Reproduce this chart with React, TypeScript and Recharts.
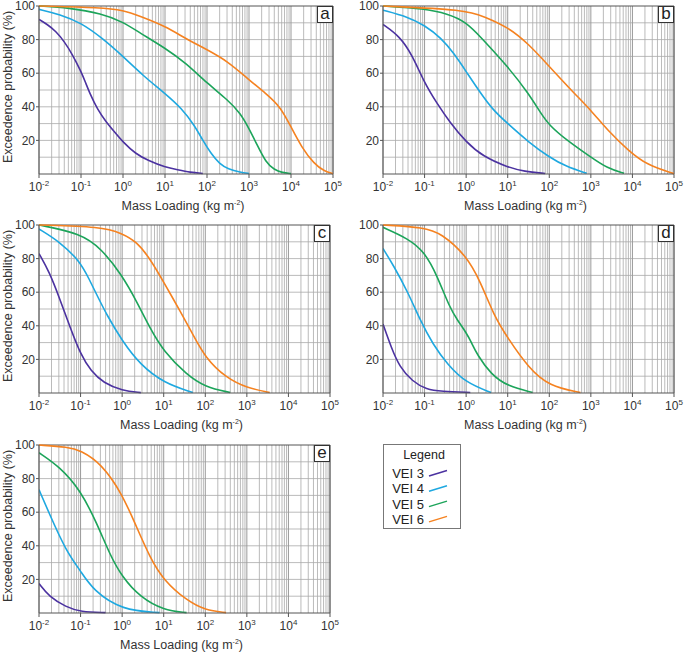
import { LineChart, Line, XAxis, YAxis, CartesianGrid, ReferenceLine } from 'recharts';

// Each curve: [log10 mass loading (kg m-2), exceedence probability %]
const A3 = [[-2, 92], [-1.8, 89], [-1.6, 85], [-1.4, 79], [-1.2, 71], [-1, 61], [-0.9, 55], [-0.8, 48.5], [-0.6, 38], [-0.4, 31], [-0.2, 25], [0, 19], [0.3, 12], [0.6, 8], [1, 4], [1.3, 2.5], [1.6, 1], [1.9, 0.3]];
const A4 = [[-2, 98], [-1.5, 95], [-1, 90], [-0.5, 81], [0, 70], [0.5, 58], [1, 48], [1.4, 39], [1.7, 29], [1.9, 20], [2.1, 12], [2.3, 6], [2.5, 3], [2.8, 1], [3, 0.3]];
const A5 = [[-2, 100], [-1.3, 99], [-0.5, 95.5], [0, 90.5], [0.4, 84], [1, 75], [1.5, 66], [2, 54], [2.5, 44], [2.8, 36], [3, 27], [3.2, 17], [3.4, 7], [3.6, 2.5], [3.8, 0.8], [4, 0.2]];
const A6 = [[-2, 100], [-0.5, 99], [0, 97.5], [0.4, 94], [1, 88], [1.5, 80.5], [2, 74], [2.5, 67], [3, 56], [3.4, 48], [3.75, 40], [4, 28], [4.25, 16], [4.55, 6], [4.8, 1.5], [5, 0.2]];

const B3 = [[-2, 89], [-1.6, 82], [-1.3, 71], [-1, 54], [-0.7, 42], [-0.4, 31], [0, 19], [0.4, 10.5], [1, 4], [1.4, 1.5], [1.9, 0.3]];
const B4 = [[-2, 97.5], [-1.4, 93.5], [-1, 88.5], [-0.6, 81], [-0.3, 72], [0, 61], [0.35, 48], [0.65, 38], [1, 30], [1.5, 19], [2, 10], [2.4, 4.5], [2.9, 0.4]];
const B5 = [[-2, 100], [-1, 98.4], [-0.45, 95.4], [0, 90.5], [0.35, 81.5], [1, 64], [1.5, 48], [1.8, 36], [2, 29], [2.4, 20.5], [3, 10], [3.4, 3.4], [3.8, 0.4]];
const B6 = [[-2, 100], [0, 97.8], [0.45, 93.5], [1, 87.5], [1.5, 77.5], [2, 64], [2.6, 48], [3, 38], [3.4, 26], [3.9, 14], [4.35, 5.3], [5, 0.2]];

const C3 = [[-2, 83], [-1.75, 72], [-1.5, 56], [-1.25, 39], [-1, 23], [-0.75, 13], [-0.45, 6], [0, 1.4], [0.45, 0.2]];
const C4 = [[-2, 97.6], [-1.5, 90], [-1, 78], [-0.8, 68], [-0.6, 58], [-0.37, 46.5], [0, 31], [0.43, 17], [1, 6], [1.7, 0.3]];
const C5 = [[-2, 100], [-1, 95], [-0.5, 86], [0, 70], [0.35, 54.5], [0.67, 38.6], [1, 24.7], [1.55, 11], [2, 3.5], [2.6, 0.3]];
const C6 = [[-2, 100], [-0.5, 99], [0, 95], [0.35, 90], [0.67, 80], [1, 66], [1.4, 48.5], [1.7, 35], [2, 21], [2.5, 9], [3, 3], [3.55, 0.3]];

const D3 = [[-2, 41], [-1.8, 27], [-1.6, 15.5], [-1.3, 7], [-0.95, 2], [-0.6, 1], [0.1, 0.3]];
const D4 = [[-2, 86], [-1.75, 76], [-1.4, 60], [-1.1, 43], [-0.8, 29], [-0.45, 17], [0, 6], [0.6, 0.3]];
const D5 = [[-2, 98.6], [-1.4, 92], [-1, 84], [-0.7, 70], [-0.4, 51], [-0.2, 43], [0, 36], [0.13, 30], [0.26, 23], [0.6, 11], [1, 4], [1.6, 0.3]];
const D6 = [[-2, 100], [-1, 98.6], [-0.6, 95], [0, 82], [0.35, 66], [0.66, 46.5], [1, 32.7], [1.5, 15], [2, 4], [2.75, 0.3]];

const E3 = [[-2, 17.5], [-1.75, 9.5], [-1.35, 3.6], [-1, 0.6], [-0.4, 0.2]];
const E4 = [[-2, 73.4], [-1.75, 59], [-1.35, 37], [-1, 25], [-0.7, 13.5], [0, 1.6], [0.9, 0.2]];
const E5 = [[-2, 95.4], [-1.5, 87], [-1, 73], [-0.6, 53], [-0.3, 35], [0, 21.4], [0.43, 9.5], [1, 1.6], [1.55, 0.2]];
const E6 = [[-2, 100], [-1.3, 98.8], [-1, 96.8], [-0.5, 89], [0, 71], [0.35, 51], [0.67, 33], [1, 19.4], [1.55, 7.5], [2, 1.6], [2.5, 0.2]];

const SERIES = ['VEI 3', 'VEI 4', 'VEI 5', 'VEI 6'];
const COLORS = ['#4b32a0', '#1ea8e0', '#1ca45a', '#f58220'];
const X_TICKS = [1e-2, 1e-1, 1e0, 1e1, 1e2, 1e3, 1e4, 1e5];
const Y_TICKS = [20, 40, 60, 80, 100];

const FONT = 'Arial, "Liberation Sans", sans-serif';
const GRID_X: number[] = [];
for (let k = -2; k < 5; k++) for (let m = 2; m < 10; m++) GRID_X.push(m * Math.pow(10, k));
const GRID_Y = [10, 20, 30, 40, 50, 60, 70, 80, 90];

const toPts = (c: number[][]) => c.map(([e, p]) => ({ x: Math.pow(10, e), y: p }));

const XTick = ({ x, y, payload }: any) => {
  const e = Math.round(Math.log10(payload.value));
  return (
    <text x={x} y={y + 12} textAnchor="middle" fontSize={12} fill="#333" fontFamily={FONT}>
      <tspan>10</tspan>
      <tspan dy={-5} fontSize={8}>{e}</tspan>
    </text>
  );
};

const XLabel = ({ viewBox }: any) => (
  <text x={viewBox.x + viewBox.width / 2 - 3} y={viewBox.y + 36} textAnchor="middle" fontSize={12.5} fill="#333" fontFamily={FONT}>
    <tspan>Mass Loading (kg m</tspan>
    <tspan dy={-5} fontSize={7}>-2</tspan>
    <tspan dy={5}>)</tspan>
  </text>
);

const YLabel = ({ viewBox }: any) => {
  const cx = 12;
  const cy = viewBox.y + viewBox.height / 2 - 3;
  return (
    <text x={cx} y={cy} transform={`rotate(-90 ${cx} ${cy})`} textAnchor="middle" fontSize={12.5} fill="#333" fontFamily={FONT}>
      Exceedence probability (%)
    </text>
  );
};

function Panel({ curves, letter, left, top, width, yLabel }: any) {
  return (
    <div style={{ position: 'absolute', left, top, width, height: 215 }}>
      <LineChart width={width} height={215} margin={{ top: 6, right: 11, left: 0, bottom: 0 }}>
        <CartesianGrid stroke="#aaa" strokeWidth={0.8} vertical={false} horizontalValues={GRID_Y} />
        {GRID_X.map((v) => (
          <ReferenceLine key={v} x={v} stroke="#aaa" strokeWidth={0.8} />
        ))}
        {X_TICKS.map((v) => (
          <ReferenceLine key={'d' + v} x={v} stroke="#999" strokeWidth={1} />
        ))}
        <XAxis
          type="number"
          dataKey="x"
          scale="log"
          domain={[1e-2, 1e5]}
          ticks={X_TICKS}
          interval={0}
          allowDataOverflow
          height={41}
          tickSize={4}
          tickMargin={1}
          stroke="#555"
          tick={<XTick />}
          label={{ content: <XLabel /> }}
        />
        <YAxis
          type="number"
          domain={[0, 100]}
          ticks={Y_TICKS}
          interval={0}
          width={39}
          tickSize={3}
          tickMargin={1}
          stroke="#555"
          tick={{ fontSize: 12, fill: '#333', fontFamily: FONT }}
          label={yLabel ? { content: <YLabel /> } : undefined}
        />
        <ReferenceLine y={100} stroke="#555" />
        <ReferenceLine x={1e5} stroke="#555" />
        {curves.map((c: number[][], i: number) => (
          <Line
            key={SERIES[i]}
            data={toPts(c)}
            dataKey="y"
            type="basis"
            stroke={COLORS[i]}
            strokeWidth={1.6}
            dot={false}
            isAnimationActive={false}
          />
        ))}
      </LineChart>
      <div
        style={{
          position: 'absolute',
          right: 11,
          top: 6,
          width: 16,
          height: 17,
          background: '#fff',
          border: '1px solid #333',
          boxSizing: 'border-box',
          fontFamily: FONT,
          fontSize: 17,
          lineHeight: '13px',
          textAlign: 'center',
          color: '#222',
        }}
      >
        {letter}
      </div>
    </div>
  );
}

function LegendBox() {
  return (
    <div style={{ position: 'absolute', left: 383, top: 444, width: 78, height: 85, border: '1px solid #777', boxSizing: 'border-box', background: '#fff' }}>
      <svg width={76} height={83}>
        <text x={40} y={14} textAnchor="middle" fontSize={12.5} fill="#222" fontFamily={FONT}>Legend</text>
        {SERIES.map((s, i) => (
          <g key={s}>
            <text x={40} y={33 + i * 15.3} textAnchor="end" fontSize={13} fill="#222" fontFamily={FONT}>{s}</text>
            <line x1={45} y1={31 + i * 15.3} x2={63} y2={25.5 + i * 15.3} stroke={COLORS[i]} strokeWidth={1.5} />
          </g>
        ))}
      </svg>
    </div>
  );
}

export default function App() {
  return (
    <div style={{ position: 'absolute', left: 0, top: 0, width: 685, height: 655, background: '#fff', overflow: 'hidden' }}>
      <Panel curves={[A3, A4, A5, A6]} letter="a" left={0} top={0} width={344} yLabel />
      <Panel curves={[B3, B4, B5, B6]} letter="b" left={344} top={0} width={341} />
      <Panel curves={[C3, C4, C5, C6]} letter="c" left={0} top={219} width={341} yLabel />
      <Panel curves={[D3, D4, D5, D6]} letter="d" left={344} top={219} width={341} />
      <Panel curves={[E3, E4, E5, E6]} letter="e" left={0} top={439} width={341} yLabel />
      <LegendBox />
    </div>
  );
}
